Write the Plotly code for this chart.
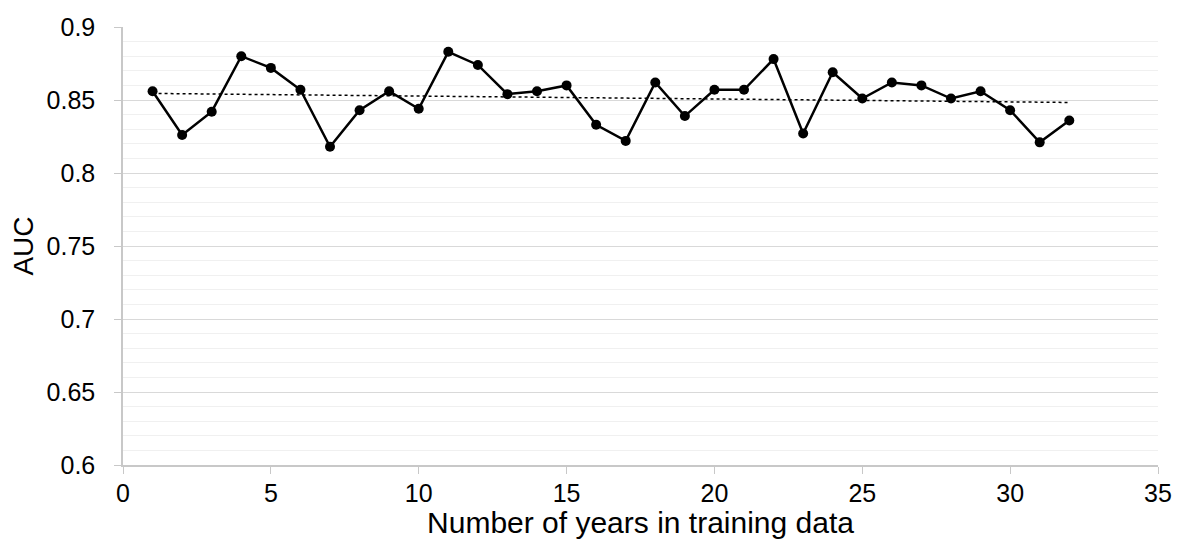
import numpy as np
import plotly.graph_objects as go

years = list(range(1, 33))
auc = [0.856, 0.826, 0.842, 0.880, 0.872, 0.857, 0.818, 0.843,
       0.856, 0.844, 0.883, 0.874, 0.854, 0.856, 0.860, 0.833,
       0.822, 0.862, 0.839, 0.857, 0.857, 0.878, 0.827, 0.869,
       0.851, 0.862, 0.860, 0.851, 0.856, 0.843, 0.821, 0.836]

# linear trend line, as in the spreadsheet original
slope, intercept = np.polyfit(years, auc, 1)
trend = [slope * x + intercept for x in years]

font = "Liberation Sans, Arial, sans-serif"

fig = go.Figure()
fig.add_trace(go.Scatter(
    x=years, y=trend, mode="lines",
    line=dict(color="black", width=1.5, dash="dot"),
    hoverinfo="skip",
))
fig.add_trace(go.Scatter(
    x=years, y=auc, mode="lines+markers",
    line=dict(color="black", width=2.5),
    marker=dict(color="black", size=10),
))

# page body has an 8px margin, so the figure is sized to fit inside it
fig.update_layout(
    width=1166, height=531,
    showlegend=False,
    plot_bgcolor="white",
    paper_bgcolor="white",
    margin=dict(l=115, r=16, t=19, b=74),
    font=dict(family=font, size=24, color="black"),
)
fig.update_xaxes(
    range=[0, 35], dtick=5, tick0=0,
    showgrid=False, zeroline=False, automargin=False,
    showline=True, linecolor="#c8c8c8", linewidth=1.5,
    ticks="outside", ticklen=7, tickcolor="#c8c8c8",
    tickfont=dict(size=25), ticklabelstandoff=-2,
    title=dict(text="Number of years in training data", standoff=10,
               font=dict(size=30)),
)
fig.update_yaxes(
    range=[0.6, 0.9], dtick=0.05, tick0=0.6,
    showgrid=True, gridcolor="#d9d9d9", gridwidth=1,
    zeroline=False, automargin=False,
    showline=True, linecolor="#c8c8c8", linewidth=1.5,
    ticks="outside", ticklen=7, tickcolor="#c8c8c8",
    tickfont=dict(size=25), ticklabelstandoff=14,
    minor=dict(dtick=0.01, showgrid=True, gridcolor="#f0f0f0", gridwidth=1),
    title=dict(text="AUC", standoff=6, font=dict(size=28)),
)

fig.write_html("out.html")
